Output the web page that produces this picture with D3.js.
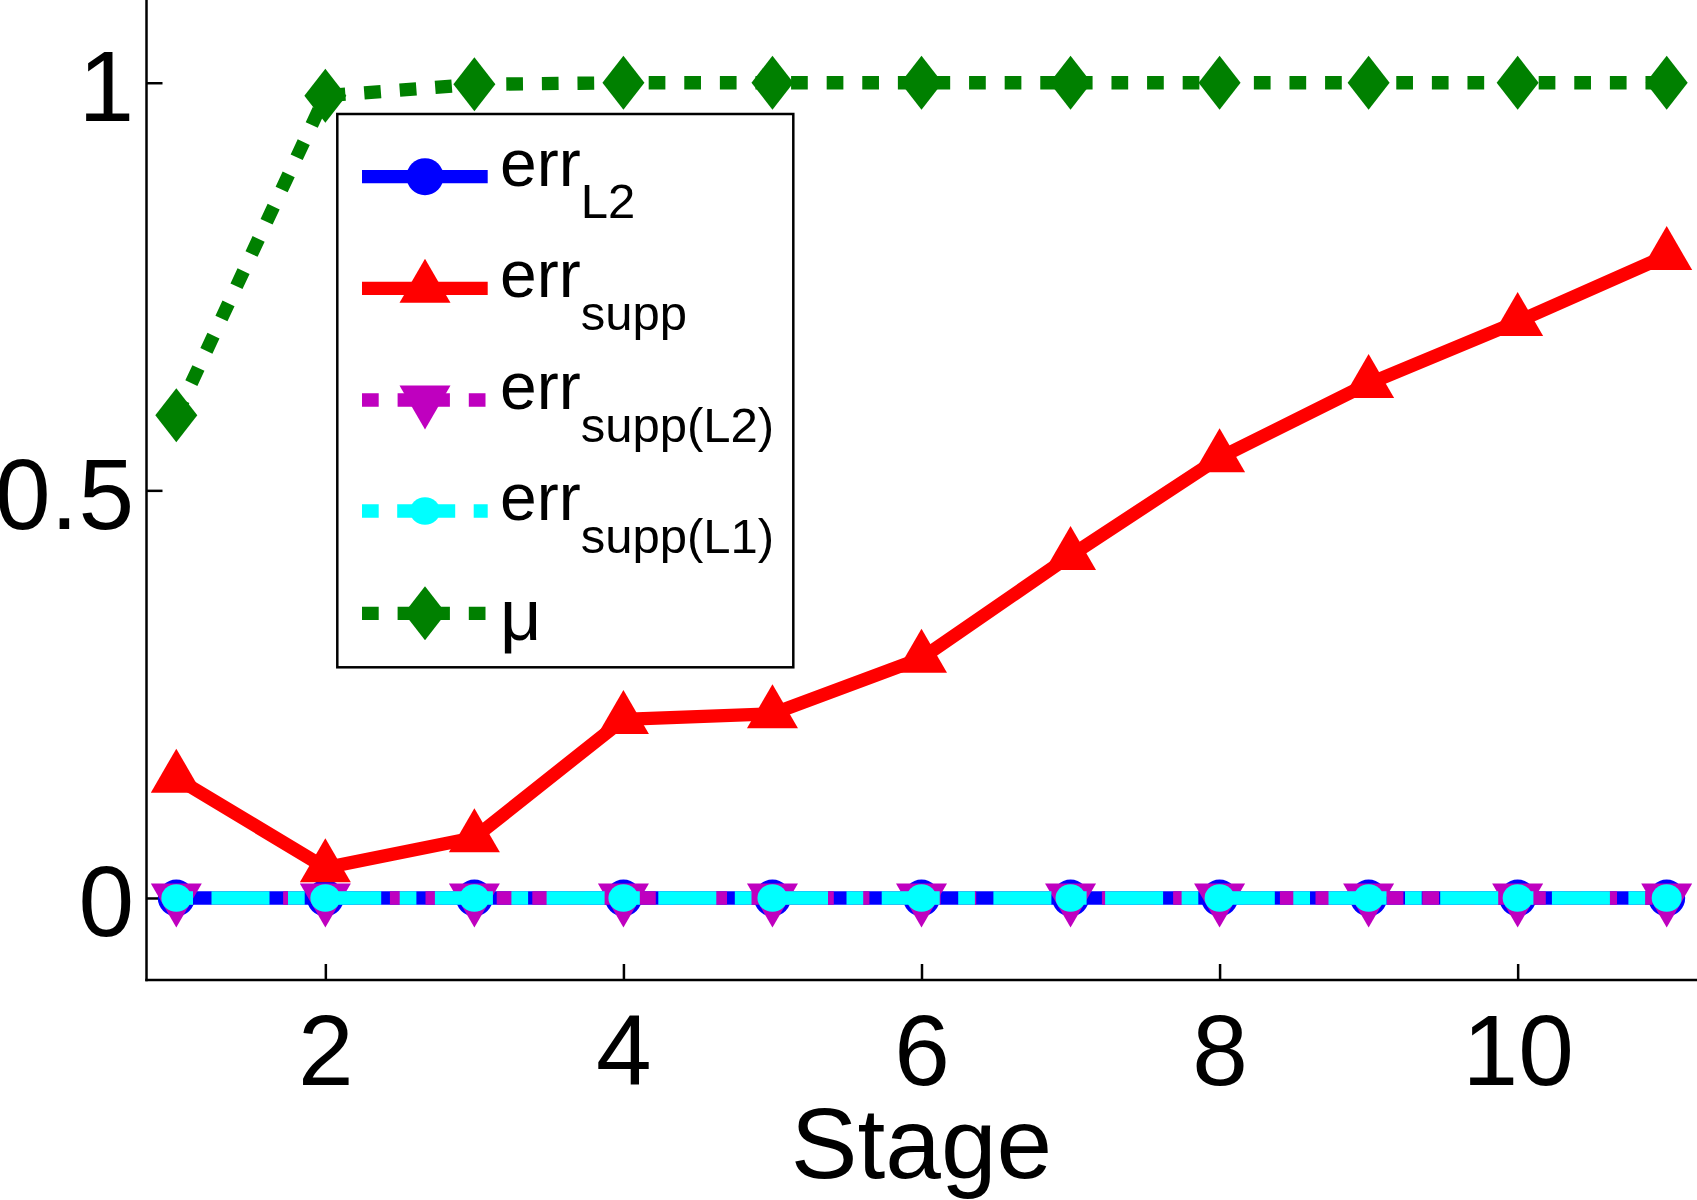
<!DOCTYPE html>
<html>
<head>
<meta charset="utf-8">
<script src="https://cdn.jsdelivr.net/npm/d3@7"></script>
<style>
  body { margin: 0; background: #fff; }
  svg { display: block; font-family: "Liberation Sans", Arial, Helvetica, sans-serif; }
</style>
</head>
<body>
<div id="container"></div>
<script>
/* DATA */
const stages = [1, 2, 3, 4, 5, 6, 7, 8, 9, 10, 11];
const errL2 = [0, 0, 0, 0, 0, 0, 0, 0, 0, 0, 0];
const errSupp = [0.147, 0.037, 0.074, 0.219, 0.226, 0.294, 0.42, 0.54, 0.631, 0.707, 0.788];
const errSuppL2 = [0, 0, 0, 0, 0, 0, 0, 0, 0, 0, 0];
const errSuppL1 = [0, 0, 0, 0, 0, 0, 0, 0, 0, 0, 0];
const mu = [0.592, 0.984, 0.998, 1, 1, 1, 1, 1, 1, 1, 1];
const xTicks = [2, 4, 6, 8, 10];
const yTicks = [0, 0.5, 1];
const xLabel = "Stage";

/* CONSTANTS AND GLOBALS */
const width = 1697, height = 1200;
const lineW = 13.3;
const dotted = "16.7 18.9";
const dashDot = "16.7 18.5 58 18.5";

// one entry per series: name (main + subscript), values, style
const series = [
  { main: "err", sub: "L2", values: errL2, color: "#0000ff", dash: null, marker: "circle" },
  { main: "err", sub: "supp", values: errSupp, color: "#ff0000", dash: null, marker: "up" },
  { main: "err", sub: "supp(L2)", values: errSuppL2, color: "#bf00bf", dash: dotted, marker: "down" },
  { main: "err", sub: "supp(L1)", values: errSuppL1, color: "#00ffff", dash: dashDot, marker: "dot" },
  { main: "\u03bc", sub: null, values: mu, color: "#008000", dash: dotted, marker: "diamond" }
];

const svg = d3.select("#container")
  .append("svg")
  .attr("width", width)
  .attr("height", height);

// SCALES
const x = d3.scaleLinear().domain([0.8, 11.2]).range([146.5, 1696.5]);
const y = d3.scaleLinear().domain([-0.1, 1.1]).range([979.5, 1.2]);

// MARKER SHAPES (centred on the data point)
const markerPath = {
  up: "M0,-29.5L25.5,14.5L-25.5,14.5Z",
  down: "M0,29.5L25.5,-14.5L-25.5,-14.5Z",
  diamond: "M0,-27L21,0L0,27L-21,0Z"
};
function drawMarker(g, type, cx, cy, color) {
  if (type === "circle") {
    g.append("circle").attr("cx", cx).attr("cy", cy).attr("r", 18.5).attr("fill", color);
  } else if (type === "dot") {
    g.append("ellipse").attr("cx", cx).attr("cy", cy).attr("rx", 15).attr("ry", 13.8).attr("fill", color);
  } else {
    g.append("path").attr("d", markerPath[type])
      .attr("transform", `translate(${cx},${cy})`)
      .attr("fill", color);
  }
}

// AXES
const xAxis = svg.append("g")
  .attr("transform", "translate(0,980)")
  .call(d3.axisBottom(x).tickValues(xTicks).tickSizeInner(-16).tickSizeOuter(0).tickPadding(34));
const yAxis = svg.append("g")
  .attr("transform", "translate(146.5,0)")
  .call(d3.axisLeft(y).tickValues(yTicks).tickFormat(d3.format("~g")).tickSizeInner(-16).tickSizeOuter(0).tickPadding(12.5));
[xAxis, yAxis].forEach(a => {
  a.select(".domain").remove();
  a.selectAll("line").attr("stroke", "#000").attr("stroke-width", 2.5);
  a.selectAll("text").attr("font-size", 100).attr("fill", "#000").attr("font-family", null);
});
yAxis.selectAll("text").attr("dy", "0.38em");
svg.append("line").attr("x1", 146.5).attr("x2", 146.5).attr("y1", 0).attr("y2", 981.2)
  .attr("stroke", "#000").attr("stroke-width", 2.5);
svg.append("line").attr("x1", 145.3).attr("x2", width).attr("y1", 980).attr("y2", 980)
  .attr("stroke", "#000").attr("stroke-width", 2.5);

// SERIES: line then markers, in plot order
const lineGen = d3.line().x((d, i) => x(stages[i])).y(d => y(d));
series.forEach(s => {
  const g = svg.append("g");
  g.append("path")
    .attr("d", lineGen(s.values))
    .attr("fill", "none")
    .attr("stroke", s.color)
    .attr("stroke-width", lineW)
    .attr("stroke-dasharray", s.dash)
    .attr("stroke-linejoin", "round");
  s.values.forEach((v, i) => drawMarker(g, s.marker, x(stages[i]), y(v), s.color));
});

// X LABEL
svg.append("text")
  .attr("x", 921.5).attr("y", 1178)
  .attr("text-anchor", "middle")
  .attr("font-size", 100)
  .text(xLabel);

// LEGEND
const rowY = [176.7, 288.3, 400, 511, 613.3];
const legend = svg.append("g");
legend.append("rect")
  .attr("x", 337.3).attr("y", 114).attr("width", 456).attr("height", 553.3)
  .attr("fill", "#fff").attr("stroke", "#000").attr("stroke-width", 2.5);
series.forEach((s, i) => {
  const cy = rowY[i];
  legend.append("line")
    .attr("x1", 362).attr("x2", 487.7).attr("y1", cy).attr("y2", cy)
    .attr("stroke", s.color).attr("stroke-width", lineW)
    .attr("stroke-dasharray", s.dash);
  drawMarker(legend, s.marker, 425, cy, s.color);
  if (s.sub) {
    const t = legend.append("text").attr("x", 500).attr("y", cy + 9).attr("font-size", 66);
    t.append("tspan").text(s.main);
    t.append("tspan").attr("dy", 32.5).attr("font-size", 49).text(s.sub);
  } else {
    legend.append("text").attr("x", 500).attr("y", 640).attr("font-size", 72).text(s.main);
  }
});
</script>
</body>
</html>
